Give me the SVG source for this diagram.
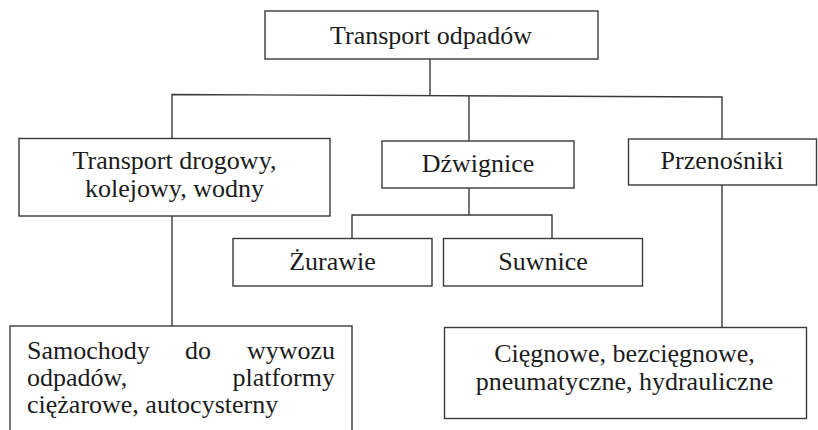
<svg xmlns="http://www.w3.org/2000/svg" width="818" height="430" viewBox="0 0 818 430">
<style>
.box{fill:#fff;stroke:#3a3a3a;stroke-width:1.4}
.ln{fill:none;stroke:#3a3a3a;stroke-width:1.4}
text{font-family:"Liberation Serif","Times New Roman",serif;font-size:26px;fill:#1c1c1c}
.c{text-anchor:middle}
.e{text-anchor:end}
</style>
<rect width="818" height="430" fill="#fff"/>
<g id="connectors">
<path class="ln" d="M430,59 V95.5"/>
<path class="ln" d="M172,138.5 V94.5 L722,97 V139"/>
<path class="ln" d="M469,96 V141"/>
<path class="ln" d="M469,188 V215 M352,238.5 V215 H552 V238.5"/>
<path class="ln" d="M172,216 V326"/>
<path class="ln" d="M722,185 V327.5"/>
</g>
<g id="n-root"><rect class="box" x="265" y="11" width="333" height="48"/><text class="c" x="431" y="43.5">Transport odpadów</text></g>
<g id="n-drogowy"><rect class="box" x="19" y="138.5" width="311" height="77.5"/><text class="c" x="174.5" y="168.5">Transport drogowy,</text><text class="c" x="174.5" y="196.5">kolejowy, wodny</text></g>
<g id="n-dzwignice"><rect class="box" x="382" y="141" width="192" height="47"/><text class="c" x="478" y="171.5">Dźwignice</text></g>
<g id="n-przenosniki"><rect class="box" x="628.5" y="139" width="188" height="46"/><text class="c" x="722" y="169">Przenośniki</text></g>
<g id="n-zurawie"><rect class="box" x="233" y="238.5" width="199" height="47.5"/><text class="c" x="332.5" y="270">Żurawie</text></g>
<g id="n-suwnice"><rect class="box" x="443.5" y="238.5" width="199" height="47.5"/><text class="c" x="543" y="270">Suwnice</text></g>
<g id="n-samochody"><rect class="box" x="10" y="326" width="342" height="110"/>
<text x="27" y="358.5">Samochody</text><text x="185" y="358.5">do</text><text class="e" x="335" y="358.5">wywozu</text>
<text x="27" y="385.5">odpadów,</text><text class="e" x="335" y="385.5">platformy</text>
<text x="27" y="413">ciężarowe, autocysterny</text></g>
<g id="n-ciegnowe"><rect class="box" x="444.5" y="327.5" width="362" height="91"/><text class="c" x="624.5" y="361.5">Cięgnowe, bezcięgnowe,</text><text class="c" x="624.5" y="389.5">pneumatyczne, hydrauliczne</text></g>
</svg>
